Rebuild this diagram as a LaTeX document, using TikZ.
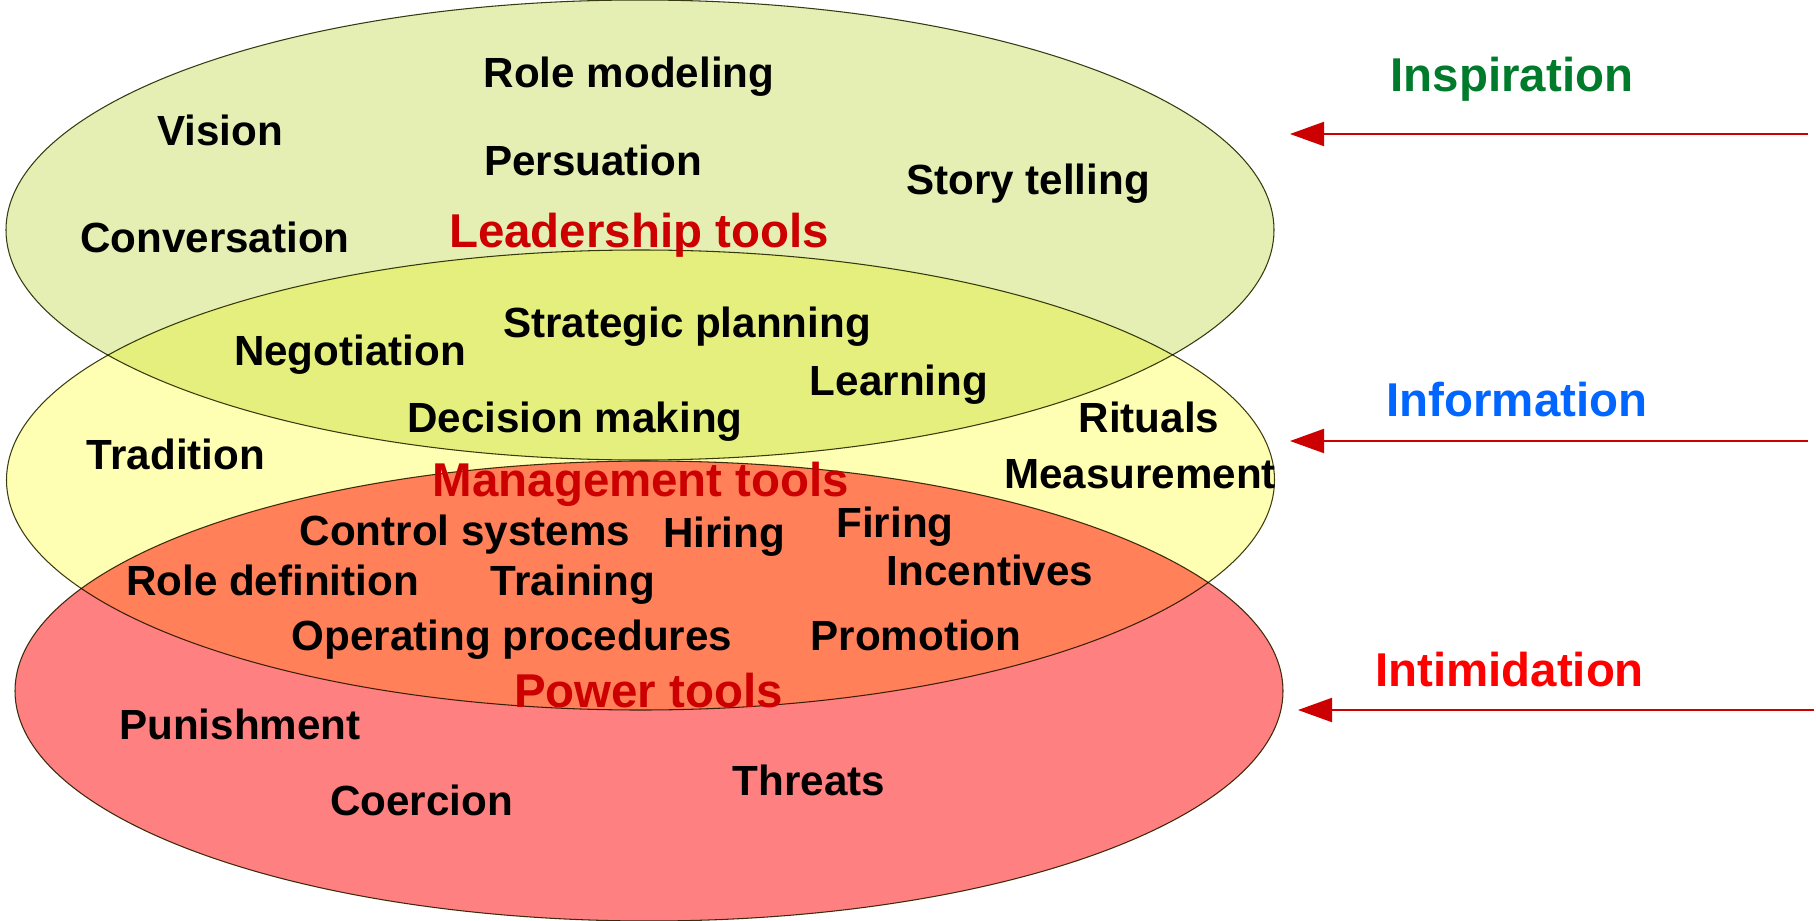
\documentclass[tikz,border=0pt]{standalone}
\usepackage{fontspec}
\setmainfont{Liberation Sans}
\usetikzlibrary{arrows.meta}

\definecolor{leadfill}{HTML}{E5EFB3}
\definecolor{mgmtfill}{HTML}{FFFFB3}
\definecolor{powerfill}{HTML}{FF8080}
\definecolor{rim}{HTML}{3C3C14}
\definecolor{toolred}{HTML}{CC0000}
\definecolor{inspgreen}{HTML}{007A2B}
\definecolor{infoblue}{HTML}{0066FF}
\definecolor{intired}{HTML}{FF0000}
\definecolor{arrowred}{HTML}{CC0000}

\tikzset{
    tool/.style={font=\fontsize{12}{14}\selectfont\bfseries, anchor=base, inner sep=0pt},
    group/.style={font=\fontsize{13.5}{16}\selectfont\bfseries, text=toolred, anchor=base, inner sep=0pt},
    source/.style={font=\fontsize{13.5}{16}\selectfont\bfseries, anchor=base, inner sep=0pt},
    push/.style={draw=arrowred, line width=0.6pt, -{Triangle[length=3.4mm,width=2.4mm,fill=arrowred]}},
    zone/.style={draw=rim, line width=0.3pt}
}

\begin{document}
\begin{tikzpicture}[y=-1cm]
                    \useasboundingbox (0,0) rectangle (18.16,9.21);

                    \begin{scope}[blend group=multiply]
                        \filldraw[zone, fill=leadfill]  (6.40,2.30) ellipse (6.34 and 2.30);
                        \filldraw[zone, fill=mgmtfill]  (6.405,4.80) ellipse (6.34 and 2.30);
                        \filldraw[zone, fill=powerfill] (6.49,6.91) ellipse (6.34 and 2.30);
                    \end{scope}

                    % leadership
                    \node[tool] (rolemodel)  at (6.29,0.875)  {Role modeling};
                    \node[tool] (vision)     at (2.20,1.455)  {Vision};
                    \node[tool] (persuasion) at (5.93,1.755)  {Persuation};
                    \node[tool] (story)      at (10.28,1.945) {Story telling};
                    \node[tool] (conversation) at (2.15,2.52) {Conversation};
                    \node[group] (leadership) at (6.39,2.47)  {Leadership tools};

                    \node[tool] (strategic)  at (6.87,3.375)  {Strategic planning};
                    \node[tool] (negotiation) at (3.50,3.655) {Negotiation};
                    \node[tool] (learning)   at (8.99,3.955)  {Learning};
                    \node[tool] (decision)   at (5.75,4.325)  {Decision making};

                    % management
                    \node[tool] (rituals)    at (11.49,4.32)  {Rituals};
                    \node[tool] (tradition)  at (1.76,4.695)  {Tradition};
                    \node[tool] (measurement) at (11.40,4.88) {Measurement};
                    \node[group] (management) at (6.41,4.96)  {Management tools};

                    \node[tool] (control)    at (4.65,5.45)   {Control systems};
                    \node[tool] (hiring)     at (7.24,5.475)  {Hiring};
                    \node[tool] (firing)     at (8.95,5.37)   {Firing};
                    \node[tool] (roledef)    at (2.725,5.95)  {Role definition};
                    \node[tool] (training)   at (5.73,5.95)   {Training};
                    \node[tool] (incentives) at (9.90,5.855)  {Incentives};
                    \node[tool] (operating)  at (5.12,6.50)   {Operating procedures};
                    \node[tool] (promotion)  at (9.16,6.50)   {Promotion};

                    % power
                    \node[group] (power)     at (6.485,7.07)  {Power tools};
                    \node[tool] (punishment) at (2.40,7.39)   {Punishment};
                    \node[tool] (threats)    at (8.09,7.95)   {Threats};
                    \node[tool] (coercion)   at (4.215,8.15)  {Coercion};

                    % sources
                    \node[source, text=inspgreen] (inspiration)  at (15.12,0.92) {Inspiration};
                    \node[source, text=infoblue]  (information)  at (15.17,4.165) {Information};
                    \node[source, text=intired]   (intimidation) at (15.095,6.86) {Intimidation};

                    \coordinate (inspfrom) at (18.08,1.34);
                    \coordinate (inspto)   at (12.90,1.34);
                    \coordinate (infofrom) at (18.08,4.41);
                    \coordinate (infoto)   at (12.90,4.41);
                    \coordinate (intifrom) at (18.14,7.10);
                    \coordinate (intito)   at (12.98,7.10);

                    \draw[push] (inspfrom) -- (inspto);
                    \draw[push] (infofrom) -- (infoto);
                    \draw[push] (intifrom) -- (intito);
                \end{tikzpicture}
\end{document}
